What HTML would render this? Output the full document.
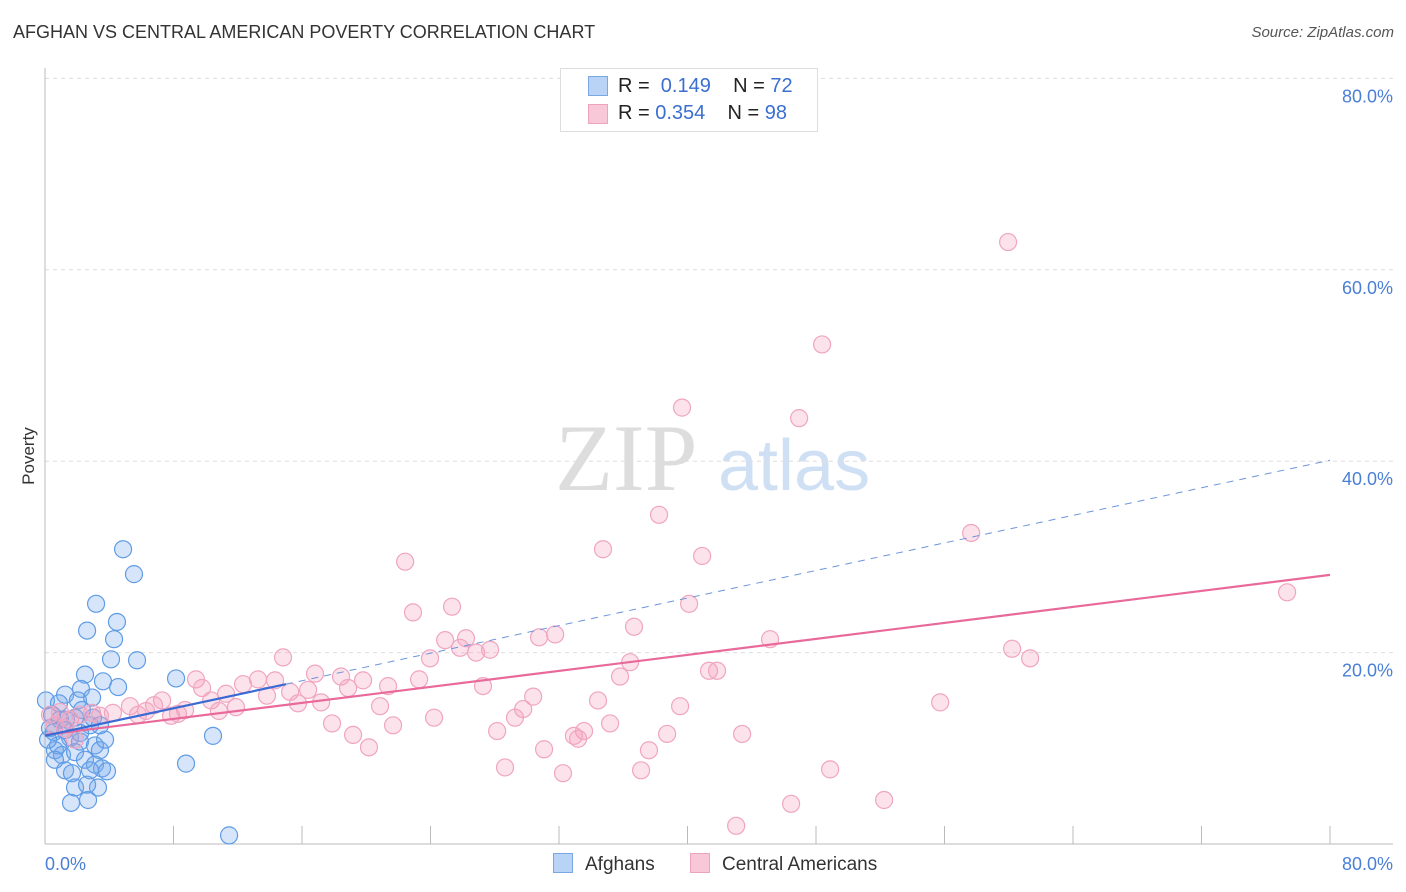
<!DOCTYPE html>
<html><head><meta charset="utf-8"><style>
body{margin:0;background:#fff;font-family:"Liberation Sans",sans-serif;}
#wrap{position:relative;width:1406px;height:892px;overflow:hidden}
.t{position:absolute;white-space:nowrap}
</style></head><body><div id="wrap">
<div class="t" style="left:13px;top:22px;font-size:18px;color:#333">AFGHAN VS CENTRAL AMERICAN POVERTY CORRELATION CHART</div>
<div class="t" style="right:12px;top:24px;font-size:15px;color:#555;font-style:italic">Source: ZipAtlas.com</div>
<svg id="svg" width="1406" height="892" style="position:absolute;left:0;top:0">
<text x="555" y="490" font-size="95" font-family="Liberation Serif,serif" fill="#ddd">ZIP</text>
<text x="718" y="490" font-size="72" font-family="Liberation Sans,sans-serif" fill="#cfe0f5">atlas</text>
<g id="g"></g>
<text x="34" y="456" transform="rotate(-90 34 456)" text-anchor="middle" font-size="17" fill="#333">Poverty</text>
<text x="45" y="870" font-size="18" fill="#4a7fd6">0.0%</text>
<text x="1393" y="870" text-anchor="end" font-size="18" fill="#4a7fd6">80.0%</text>
</svg>
<div class="t" style="left:560px;top:68px;width:256px;height:62px;border:1px solid #ddd;background:#fff;font-size:20px">
<div style="position:absolute;left:27px;top:7px;width:18px;height:18px;background:#b8d3f5;border:1px solid #7aa7e4"></div>
<div class="t" style="left:57px;top:6px;color:#222">R = <span style="color:#3a6fd0">&nbsp;0.149</span>&nbsp;&nbsp;&nbsp;&nbsp;N = <span style="color:#3a6fd0">72</span></div>
<div style="position:absolute;left:27px;top:35px;width:18px;height:18px;background:#f8c8d8;border:1px solid #eea3bd"></div>
<div class="t" style="left:57px;top:33px;color:#222">R = <span style="color:#3a6fd0">0.354</span>&nbsp;&nbsp;&nbsp;&nbsp;N = <span style="color:#3a6fd0">98</span></div>
</div>
<div class="t" style="left:553px;top:853px;font-size:19px;color:#333"><span style="display:inline-block;width:18px;height:18px;background:#b8d3f5;border:1px solid #7aa7e4;vertical-align:-3px;margin-right:12px"></span>Afghans</div>
<div class="t" style="left:690px;top:853px;font-size:19px;color:#333"><span style="display:inline-block;width:18px;height:18px;background:#f8c8d8;border:1px solid #eea3bd;vertical-align:-3px;margin-right:12px"></span>Central Americans</div>
</div>
<script>
const yTicks=[20,40,60,80];
const xTicks=[8,16,24,32,40,48,56,64,72,80];
const blueX=[4.86,5.54,3.18,4.48,2.62,4.30,4.11,5.73,8.16,2.49,3.61,4.55,2.24,1.25,2.93,2.05,0.06,0.87,2.30,0.44,0.93,1.87,2.80,0.31,1.25,1.56,2.18,3.11,3.42,0.62,1.06,1.87,2.49,3.11,3.55,1.25,1.68,2.80,3.86,3.30,1.87,2.68,1.62,11.46,10.46,8.78,0.56,0.81,0.19,1.31,2.18,3.74,0.62,2.62,2.99,3.42];
const blueY=[30.8,28.2,25.1,23.2,22.3,21.4,19.3,19.2,17.3,17.7,17.0,16.4,16.2,15.6,15.3,15.0,15.0,14.7,14.0,13.5,13.0,13.2,12.4,12.1,11.9,11.1,10.7,10.3,9.8,9.8,9.3,9.6,8.8,8.3,7.9,7.7,7.4,7.7,7.6,5.9,5.9,4.6,4.3,0.9,11.3,8.4,11.7,10.3,10.9,13.0,11.6,10.9,8.8,6.2,13.2,12.4];
const pinkX=[59.96,48.38,39.66,46.95,38.23,57.66,34.74,40.91,22.42,77.33,25.34,40.10,22.91,36.67,31.76,30.76,45.14,24.91,26.21,25.84,27.71,26.84,60.21,61.33,23.97,14.82,36.43,9.40,16.81,18.43,19.80,23.29,14.32,13.26,12.33,41.34,41.84,35.80,27.27,9.78,18.87,21.36,15.26,16.38,11.27,13.82,10.34,7.29,6.79,5.29,15.75,17.19,30.39,34.43,55.73,29.77,20.86,11.89,8.72,6.29,4.23,39.54,5.79,10.83,7.85,8.28,2.93,29.26,24.22,17.87,21.67,35.18,28.15,33.56,32.93,33.19,38.73,43.40,19.18,20.17,31.07,37.60,28.64,32.25,37.11,48.88,46.45,52.24,43.03,0.93,1.56,2.18,0.62,1.25,3.42,0.31,1.87];
const pinkY=[62.9,52.2,45.6,44.5,34.4,32.5,30.8,30.1,29.5,26.3,24.8,25.1,24.2,22.7,21.9,21.6,21.4,21.3,21.5,20.5,20.3,20.0,20.4,19.4,19.4,19.5,19.0,17.2,17.8,17.5,17.1,17.2,17.1,17.2,16.7,18.1,18.1,17.5,16.5,16.3,16.3,16.5,15.9,16.1,15.7,15.5,15.0,15.0,14.5,14.4,14.7,14.8,15.4,15.0,14.8,14.1,14.4,14.3,14.0,13.9,13.7,14.4,13.5,13.9,13.4,13.6,13.7,13.2,13.2,12.6,12.4,12.6,11.8,11.8,11.3,11.0,11.5,11.5,11.4,10.1,9.9,9.8,8.0,7.4,7.7,7.8,4.2,4.6,1.9,13.8,13.0,13.5,12.4,12.1,13.4,13.5,10.9];
const blueTrend=[11.3,0.36];   // intercept, slope
const pinkTrend=[11.4,0.209];
const X=v=>45+v*1285/80, Y=v=>844-v*9.57;
const NS='http://www.w3.org/2000/svg', g=document.getElementById('g');
function mk(t,a){const e=document.createElementNS(NS,t);for(const k in a)e.setAttribute(k,a[k]);g.appendChild(e);return e;}
yTicks.forEach(v=>{
 const l=mk('line',{x1:45,x2:1393,y1:Y(v),y2:Y(v),stroke:'#ddd','stroke-dasharray':'4,4'});
 
 
 const t=mk('text',{x:1393,y:Y(v)+24,'text-anchor':'end','font-size':18,fill:'#4a7fd6'});t.textContent=v.toFixed(1)+'%';
 
 
});
const ax=mk('line',{x1:45,x2:45,y1:68,y2:844,stroke:'#bbb'});


const bx=mk('line',{x1:45,x2:1393,y1:844,y2:844,stroke:'#bbb'});


xTicks.forEach(v=>{const t=mk('line',{x1:X(v),x2:X(v),y1:826,y2:844,stroke:'#bbb'});
 
 });
blueX.forEach((x,i)=>{const c=mk('circle',{cx:X(x),cy:Y(blueY[i]),r:8.5,fill:'rgba(120,170,235,0.3)',stroke:'#5f9ce6','stroke-width':1.2});
 
 });
pinkX.forEach((x,i)=>{const c=mk('circle',{cx:X(x),cy:Y(pinkY[i]),r:8.5,fill:'rgba(245,160,190,0.3)',stroke:'#f0a5c0','stroke-width':1.2});
 
 });
const bd=mk('line',{x1:X(15),y1:Y(blueTrend[0]+15*blueTrend[1]),x2:X(80),y2:Y(blueTrend[0]+80*blueTrend[1]),stroke:'#6d95db','stroke-width':1,'stroke-dasharray':'7,6'});


const pt=mk('line',{x1:X(0),y1:Y(pinkTrend[0]),x2:X(80),y2:Y(pinkTrend[0]+80*pinkTrend[1]),stroke:'#e8699a','stroke-width':2.2});


const bt=mk('line',{x1:X(0),y1:Y(blueTrend[0]),x2:X(15),y2:Y(blueTrend[0]+15*blueTrend[1]),stroke:'#3a6bd4','stroke-width':2.2});


</script></body></html>
